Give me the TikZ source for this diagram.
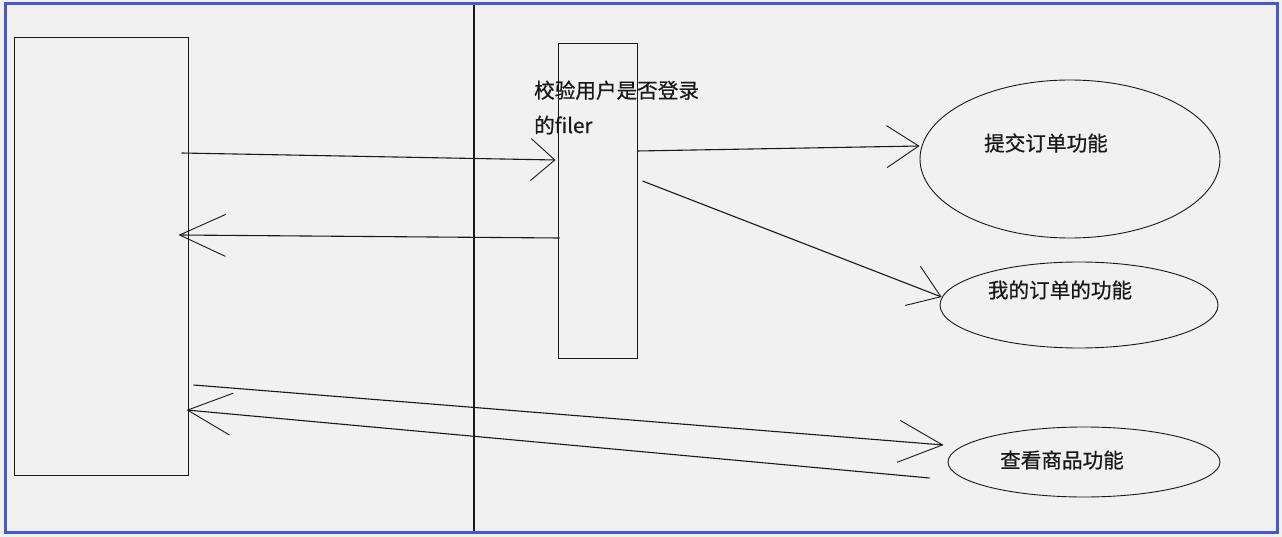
\documentclass[tikz,border=0pt]{standalone}
\usepackage{fontspec}
\newfontfamily\cjk[FakeBold=0.6]{Noto Sans CJK SC}
\usetikzlibrary{shapes.geometric,arrows.meta,calc}
\definecolor{bgcol}{RGB}{241,241,241}
\definecolor{framecol}{RGB}{72,88,206}
\definecolor{inkcol}{RGB}{25,25,25}
\tikzset{
  boxnode/.style={draw=inkcol,line width=1pt,rectangle,inner sep=0pt},
  ovalnode/.style={draw=inkcol,line width=0.9pt,ellipse,inner sep=0pt},
  txtnode/.style={inner sep=0pt,text=inkcol,font=\cjk\fontsize{20.6}{35}\selectfont},
  arr/.style={draw=inkcol,line width=1.1pt,-{Straight Barb[length=#1,width=42pt,line width=0.9pt]}},
  arr/.default=30pt
}
\begin{document}
\begin{tikzpicture}[x=1pt,y=-1pt]
\useasboundingbox (0,0) rectangle (1282,537);
\fill[bgcol] (0,0) rectangle (1282,537);
\draw[framecol,line width=3pt] (5,4) rectangle (1277,532);
% divider
\coordinate (dtop) at (474,5.5);
\coordinate (dbot) at (474,530.5);
\draw[inkcol,line width=1.2pt] (dtop) -- (dbot);
% boxes
\node[boxnode,minimum width=174pt,minimum height=437pt] (L) at (101,256.5) {};
\node[boxnode,minimum width=79pt,minimum height=314pt] (M) at (597.5,201) {};
\node[txtnode,anchor=west,align=left] (MT) at (534,107.5) {校验用户是否登录\\的filer};
% ellipses
\node[ovalnode,minimum width=300pt,minimum height=158pt] (E1) at (1070,159) {};
\node[ovalnode,minimum width=278pt,minimum height=86pt] (E2) at (1079,305) {};
\node[ovalnode,minimum width=272pt,minimum height=70pt] (E3) at (1084,462) {};
\node[txtnode] (T1) at (1046,143) {提交订单功能};
\node[txtnode] (T2) at (1060,290) {我的订单的功能};
\node[txtnode] (T3) at (1062,460) {查看商品功能};
% connectors
\draw[arr=24pt] ($(L.east)+(-7,-103.5)$) -- ($(M.west)+(-2,-41)$);
\draw[arr=46pt] ($(M.west)+(2,37)$) -- ($(L.east)+(-10,-21.5)$);
\draw[arr=32pt] ($(M.east)+(0,-50)$) -- ($(E1.west)+(0,-13)$);
\draw[arr=30pt] ($(M.east)+(5,-20)$) -- ($(E2.west)+(2,-8)$);
\draw[arr=44pt] ($(L.east)+(5,128.5)$) -- ($(E3.west)+(-4,-17)$);
\draw[arr=44pt] ($(E3.west)+(-18,16)$) -- ($(L.east)+(-2,153.5)$);
\end{tikzpicture}
\end{document}
